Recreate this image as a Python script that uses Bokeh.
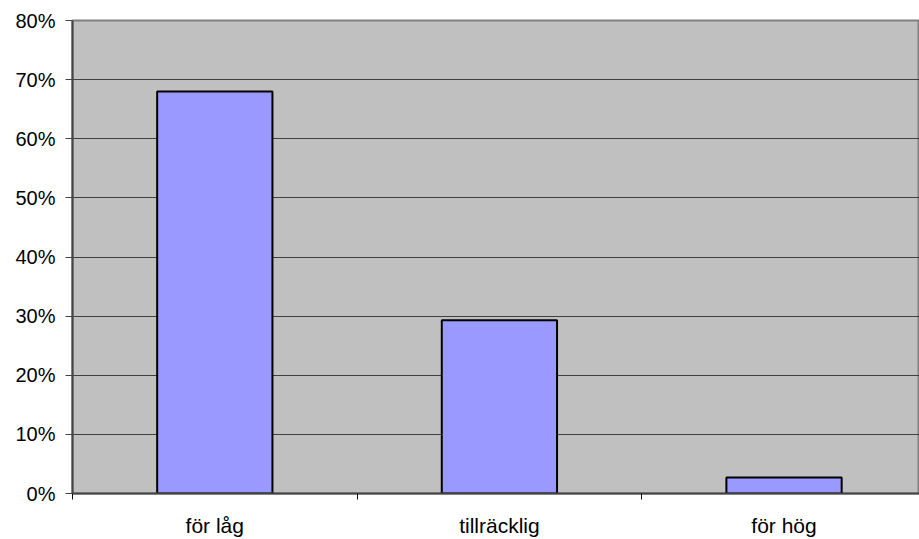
from bokeh.plotting import figure
from bokeh.models import FixedTicker, NumeralTickFormatter, Range1d
from bokeh.embed import file_html
from bokeh.resources import INLINE

categories = ["för låg", "tillräcklig", "för hög"]
shares = [0.68, 0.293, 0.027]
y_ticks = [0.0, 0.1, 0.2, 0.3, 0.4, 0.5, 0.6, 0.7, 0.8]

xs = [i + 0.5 for i in range(len(categories))]

# the plot area is slightly clipped on the right in the original
x_end = len(categories) * 0.992

p = figure(width=919, height=539, output_backend="svg", toolbar_location=None,
           x_range=Range1d(0, x_end), y_range=Range1d(0, 0.8),
           min_border_left=72, min_border_right=0, min_border_top=20, min_border_bottom=46)

p.background_fill_color = "#C0C0C0"
p.border_fill_color = "white"
p.outline_line_color = "#808080"
p.outline_line_width = 2

p.vbar(x=xs, top=shares, width=0.405, bottom=0, fill_color="#9999FF",
       line_color="black", line_width=2)

p.yaxis.ticker = FixedTicker(ticks=y_ticks)
p.yaxis.formatter = NumeralTickFormatter(format="0%")
p.yaxis.major_tick_out = 7
p.yaxis.major_tick_in = 0
p.yaxis.minor_tick_line_color = None
p.yaxis.axis_line_color = "#444444"
p.yaxis.axis_line_width = 2
p.yaxis.major_tick_line_color = "#444444"
p.yaxis.major_label_standoff = 10
p.yaxis.major_label_text_font_size = "20px"

p.xaxis.ticker = FixedTicker(ticks=xs, minor_ticks=list(range(len(categories) + 1)))
p.xaxis.major_label_overrides = {x: c for x, c in zip(xs, categories)}
p.xaxis.major_tick_line_color = None
p.xaxis.major_tick_out = 0
p.xaxis.major_tick_in = 0
p.xaxis.minor_tick_out = 6
p.xaxis.minor_tick_in = 0
p.xaxis.minor_tick_line_color = "black"
p.xaxis.axis_line_color = "#444444"
p.xaxis.axis_line_width = 2
p.xaxis.major_label_standoff = 14
p.xaxis.major_label_text_font_size = "21px"

for ax in (p.xaxis, p.yaxis):
    ax.major_label_text_font = "Liberation Sans"
    ax.major_label_text_color = "black"

p.xgrid.grid_line_color = None
p.ygrid.ticker = FixedTicker(ticks=y_ticks)
p.ygrid.grid_line_color = "#404040"
p.ygrid.grid_line_width = 1

open("out.html", "w").write(file_html(p, INLINE))
